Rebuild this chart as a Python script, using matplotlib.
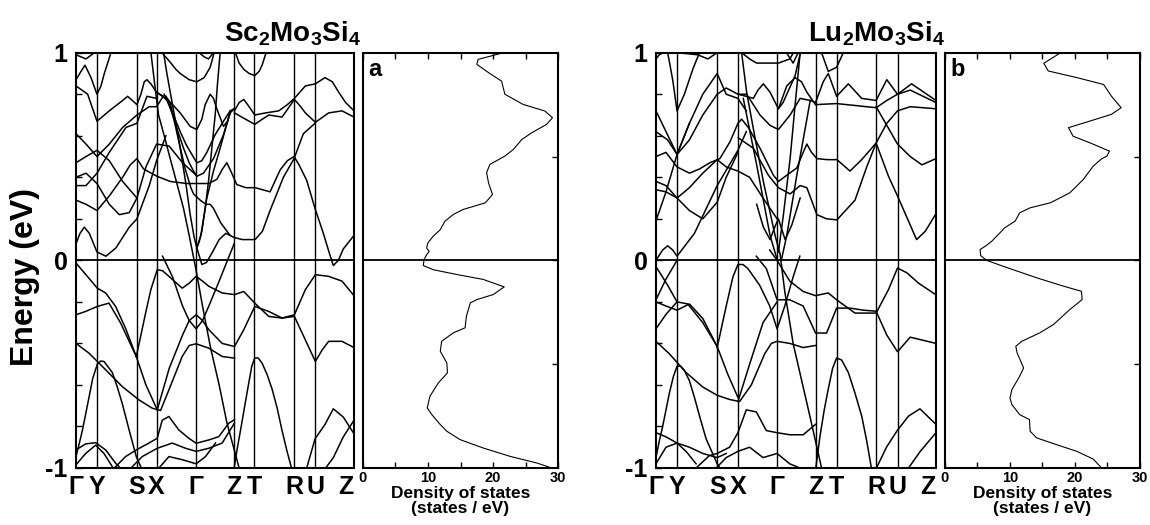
import matplotlib
matplotlib.use("Agg")
import matplotlib.pyplot as plt
from matplotlib.ticker import MultipleLocator

plt.rcParams["font.family"] = ["Liberation Sans", "DejaVu Sans"]
plt.rcParams["mathtext.fontset"] = "custom"
plt.rcParams["mathtext.rm"] = "Liberation Sans"
plt.rcParams["mathtext.bf"] = "Liberation Sans:bold"

# high-symmetry path (k in path-length units) and labels
kpath_labels = ["Γ", "Y", "S", "X", "Γ", "Z", "T", "R", "U", "Z"]
sc_kpath = [0.0, 0.63, 1.83, 2.42, 3.61, 4.75, 5.36, 6.55, 7.18, 8.35]
lu_kpath = [0.0, 0.63, 1.83, 2.45, 3.62, 4.77, 5.40, 6.58, 7.22, 8.37]

# Sc2Mo3Si4 bands above E_F, (k, E in eV)
sc_bands_upper = [
    [(0.00, 0.99), (0.30, 0.97), (0.55, 1.00)],
    [(0.00, 0.87), (0.15, 0.91), (0.27, 0.94), (0.45, 0.88), (0.63, 0.80), (0.75, 0.84),
     (0.85, 0.90), (1.05, 1.00)],
    [(0.00, 0.84), (0.35, 0.80), (0.63, 0.67), (1.00, 0.72), (1.40, 0.77), (1.55, 0.79),
     (1.83, 0.75), (1.95, 0.80), (2.05, 0.86), (2.13, 0.87), (2.25, 0.85), (2.42, 0.81),
     (2.62, 0.79)],
    [(0.00, 0.61), (0.30, 0.56), (0.63, 0.50), (1.00, 0.56), (1.40, 0.64), (1.83, 0.70),
     (2.20, 0.74), (2.42, 0.74), (2.62, 0.79)],
    [(0.00, 0.29), (0.30, 0.27), (0.63, 0.24), (1.00, 0.31), (1.40, 0.40), (1.63, 0.46),
     (1.83, 0.49), (2.03, 0.44), (2.43, 0.405), (2.83, 0.38), (3.33, 0.37), (3.98, 0.37),
     (4.23, 0.39), (4.40, 0.44), (4.53, 0.47), (4.65, 0.43), (4.83, 0.365), (5.10, 0.35),
     (5.38, 0.35), (5.83, 0.33), (6.13, 0.435), (6.35, 0.48), (6.55, 0.50), (6.70, 0.46),
     (6.93, 0.385), (7.18, 0.25), (7.43, 0.13), (7.60, 0.04), (7.73, -0.025), (7.88, 0.00),
     (8.03, 0.055), (8.35, 0.12)],
    [(0.00, 0.40), (0.30, 0.42), (0.63, 0.37), (1.00, 0.27), (1.30, 0.22), (1.60, 0.23),
     (1.83, 0.30), (2.10, 0.45), (2.42, 0.56), (2.80, 0.55), (3.20, 0.47), (3.61, 0.41)],
    [(0.00, 0.36), (0.30, 0.36), (0.63, 0.42), (1.00, 0.52), (1.50, 0.64), (1.83, 0.66),
     (2.13, 0.79), (2.42, 0.78)],
    [(0.00, 0.47), (0.30, 0.50), (0.63, 0.53), (1.00, 0.48), (1.40, 0.38), (1.83, 0.30)],
    [(0.00, 0.08), (0.12, 0.13), (0.25, 0.16), (0.40, 0.13), (0.63, 0.04), (0.90, 0.02),
     (1.20, 0.06), (1.60, 0.16), (1.83, 0.20), (2.20, 0.36), (2.42, 0.48), (2.70, 0.60)],
    [(2.42, 0.81), (2.68, 0.78), (2.90, 0.75), (3.13, 0.71), (3.43, 0.645), (3.63, 0.63),
     (3.78, 0.68), (3.88, 0.75), (4.03, 0.80), (4.13, 0.78), (4.23, 0.73), (4.43, 0.645),
     (4.55, 0.67), (4.63, 0.72), (4.75, 0.73)],
    [(2.62, 0.79), (2.73, 0.77), (2.95, 0.69), (3.13, 0.62), (3.30, 0.56), (3.48, 0.51),
     (3.63, 0.47), (3.78, 0.48), (3.93, 0.52), (4.18, 0.605), (4.43, 0.67), (4.63, 0.72)],
    [(2.65, 0.80), (2.78, 0.76), (3.00, 0.65), (3.23, 0.54), (3.40, 0.47), (3.53, 0.43),
     (3.63, 0.405), (3.83, 0.42), (4.13, 0.49), (4.43, 0.605), (4.63, 0.71), (4.75, 0.73)],
    [(2.70, 0.79), (2.83, 0.76), (3.05, 0.60), (3.28, 0.44), (3.45, 0.35), (3.53, 0.32),
     (3.73, 0.29), (3.90, 0.27), (4.03, 0.27), (4.13, 0.25), (4.35, 0.18), (4.63, 0.12),
     (4.75, 0.11), (5.00, 0.10), (5.38, 0.10), (5.60, 0.14), (5.83, 0.24), (6.23, 0.40),
     (6.55, 0.49), (6.83, 0.61), (7.18, 0.66)],
    [(2.63, 1.00), (2.73, 0.90), (2.83, 0.81), (3.00, 0.66), (3.13, 0.54), (3.30, 0.37),
     (3.43, 0.22), (3.55, 0.11), (3.63, 0.06), (3.78, -0.02), (3.92, -0.01), (4.10, 0.04),
     (4.30, 0.10), (4.50, 0.13), (4.63, 0.12)],
    [(2.25, 1.00), (2.40, 0.80), (2.48, 0.70), (2.65, 0.60), (2.83, 0.49), (3.03, 0.37),
     (3.23, 0.25), (3.40, 0.12), (3.61, -0.05), (3.80, -0.22), (4.04, -0.42), (4.30, -0.60),
     (4.53, -0.78), (4.90, -1.00)],
    [(4.33, 1.00), (4.25, 0.85), (4.18, 0.70), (4.08, 0.54), (3.98, 0.38), (3.88, 0.25),
     (3.78, 0.14), (3.70, 0.09), (3.63, 0.06)],
    [(3.63, 0.06), (3.75, 0.12), (3.93, 0.30), (4.13, 0.43), (4.33, 0.54), (4.50, 0.64),
     (4.63, 0.71)],
    [(2.58, 1.00), (2.80, 0.96), (3.00, 0.92), (3.13, 0.90), (3.40, 0.87), (3.63, 0.86),
     (3.85, 0.88), (4.03, 0.93), (4.15, 1.00)],
    [(3.70, 1.00), (3.85, 0.98), (3.98, 0.97), (4.13, 1.00)],
    [(4.79, 1.00), (4.90, 0.95), (5.04, 0.92), (5.20, 0.90), (5.37, 0.89), (5.50, 0.91),
     (5.59, 0.94), (5.71, 1.00)],
    [(4.76, 0.72), (4.90, 0.76), (5.04, 0.775), (5.20, 0.74), (5.37, 0.70), (5.69, 0.71),
     (6.09, 0.72), (6.35, 0.75), (6.56, 0.78), (6.89, 0.84), (7.19, 0.85), (7.48, 0.88),
     (7.70, 0.86), (7.89, 0.81), (8.10, 0.76), (8.35, 0.72)],
    [(4.76, 0.71), (5.09, 0.68), (5.37, 0.655), (5.60, 0.68), (5.79, 0.70), (6.19, 0.69),
     (6.56, 0.775), (6.75, 0.74), (6.89, 0.71), (7.19, 0.665), (7.59, 0.71), (7.99, 0.72),
     (8.35, 0.69)],
]

# Sc2Mo3Si4 bands below E_F
sc_bands_lower = [
    [(0.00, -0.945), (0.10, -0.88), (0.19, -0.82), (0.29, -0.74), (0.39, -0.66),
     (0.50, -0.57), (0.64, -0.50), (0.74, -0.485), (0.84, -0.487), (0.95, -0.51),
     (1.09, -0.54), (1.24, -0.61), (1.39, -0.69), (1.60, -0.82), (1.81, -0.945),
     (1.99, -1.01)],
    [(4.74, -1.01), (4.84, -0.91), (4.94, -0.82), (5.07, -0.70), (5.19, -0.59),
     (5.28, -0.51), (5.37, -0.47), (5.47, -0.47), (5.59, -0.495), (5.74, -0.55),
     (5.89, -0.62), (6.04, -0.71), (6.19, -0.82), (6.34, -0.92), (6.49, -1.01)],
    [(1.81, -0.463), (1.95, -0.36), (2.09, -0.254), (2.25, -0.14), (2.44, -0.045),
     (2.60, -0.05), (2.79, -0.077), (3.19, -0.134), (3.40, -0.11), (3.61, -0.077),
     (3.80, -0.10), (3.99, -0.125), (4.39, -0.157), (4.76, -0.165), (5.04, -0.15),
     (5.37, -0.206), (5.79, -0.27), (6.19, -0.278), (6.56, -0.262), (6.89, -0.141),
     (7.19, -0.069), (7.59, -0.077), (7.99, -0.10), (8.35, -0.17)],
    [(2.44, -0.72), (2.80, -0.52), (3.20, -0.36), (3.40, -0.29), (3.61, -0.262),
     (3.80, -0.29), (3.99, -0.334), (4.39, -0.40), (4.76, -0.415), (5.04, -0.334),
     (5.37, -0.222), (5.79, -0.246), (6.19, -0.278), (6.56, -0.27), (6.84, -0.366),
     (7.19, -0.487), (7.40, -0.43), (7.59, -0.39), (7.99, -0.39), (8.35, -0.42)],
    [(0.00, -0.40), (0.39, -0.447), (0.89, -0.527), (1.39, -0.608), (1.89, -0.672),
     (2.29, -0.712), (2.54, -0.723), (2.79, -0.624), (3.19, -0.463), (3.40, -0.41),
     (3.61, -0.402), (3.99, -0.423), (4.39, -0.463), (4.76, -0.471)],
    [(0.00, -0.262), (0.29, -0.246), (0.64, -0.222), (0.99, -0.206), (1.34, -0.302),
     (1.81, -0.463)],
    [(0.00, -0.013), (0.34, -0.077), (0.64, -0.134), (0.89, -0.157), (1.19, -0.222),
     (1.49, -0.328), (1.81, -0.463)],
    [(1.81, -0.463), (2.10, -0.60), (2.44, -0.72)],
    [(2.60, 0.02), (2.90, -0.08), (3.20, -0.22), (3.40, -0.29), (3.61, -0.33),
     (3.80, -0.29), (3.99, -0.22), (4.30, -0.10), (4.55, 0.00), (4.75, 0.08)],
    [(0.00, -0.913), (0.29, -0.884), (0.59, -0.878), (0.89, -0.913), (1.19, -0.977),
     (1.39, -1.01)],
    [(0.00, -0.985), (0.29, -0.93), (0.59, -0.89), (0.84, -0.93), (1.09, -0.994)],
    [(1.09, -1.01), (1.49, -0.945), (1.81, -0.913), (2.19, -0.88), (2.44, -0.857),
     (2.59, -0.77), (2.79, -0.752), (3.09, -0.817), (3.39, -0.857), (3.61, -0.881),
     (3.99, -0.865), (4.29, -0.849), (4.59, -0.784), (4.76, -0.768)],
    [(1.59, -1.01), (1.99, -0.945), (2.44, -0.905), (2.89, -0.88), (3.29, -0.905),
     (3.61, -0.92), (3.99, -0.905), (4.39, -0.88), (4.76, -0.784)],
    [(2.44, -1.01), (2.79, -0.945), (3.19, -0.96), (3.61, -0.98), (3.89, -0.945),
     (4.19, -0.88)],
    [(6.93, -1.00), (7.18, -0.86), (7.48, -0.79), (7.73, -0.715), (8.03, -0.755),
     (8.35, -0.835)],
    [(7.50, -1.00), (7.73, -0.95), (8.03, -0.85), (8.35, -0.77)],
]

# Lu2Mo3Si4 bands above E_F
lu_bands_upper = [
    [(0.00, 0.97), (0.10, 0.99), (0.20, 1.00)],
    [(0.35, 1.00), (0.50, 0.87), (0.63, 0.72), (0.85, 0.80), (1.10, 0.92), (1.30, 1.00)],
    [(0.65, 1.00), (1.25, 0.99), (1.55, 0.97), (1.83, 1.00)],
    [(0.00, 0.72), (0.30, 0.62), (0.63, 0.51), (1.00, 0.66), (1.40, 0.80), (1.83, 0.90),
     (2.10, 0.80), (2.45, 0.78), (2.70, 0.72)],
    [(0.00, 0.62), (0.35, 0.58), (0.63, 0.51), (1.00, 0.58), (1.40, 0.70), (1.83, 0.80),
     (2.10, 0.83), (2.45, 0.80)],
    [(0.00, 0.38), (0.30, 0.36), (0.63, 0.30), (1.00, 0.35), (1.40, 0.42), (1.83, 0.485),
     (2.10, 0.45), (2.45, 0.43), (2.80, 0.40), (3.20, 0.30), (3.62, 0.20)],
    [(0.00, 0.34), (0.30, 0.33), (0.63, 0.30), (1.00, 0.24), (1.40, 0.20), (1.83, 0.28),
     (2.10, 0.40), (2.45, 0.52)],
    [(0.00, 0.00), (0.20, 0.05), (0.35, 0.07), (0.50, 0.05), (0.63, 0.02), (1.15, 0.13),
     (1.83, 0.36), (2.45, 0.53), (2.70, 0.62)],
    [(0.00, 0.19), (0.30, 0.33), (0.63, 0.51), (1.00, 0.66)],
    [(2.56, 1.00), (2.80, 0.97), (3.01, 0.95), (3.40, 0.95), (3.66, 0.95), (4.00, 0.97),
     (4.11, 1.00)],
    [(2.45, 0.80), (2.70, 0.79), (2.91, 0.78), (3.05, 0.82), (3.21, 0.85), (3.41, 0.81),
     (3.66, 0.73), (3.80, 0.76), (3.91, 0.80), (4.05, 0.85), (4.16, 0.89), (4.26, 0.96),
     (4.32, 1.00)],
    [(2.45, 0.80), (2.71, 0.80), (3.11, 0.70), (3.41, 0.65), (3.66, 0.63), (4.01, 0.70),
     (4.31, 0.78), (4.61, 0.77), (4.77, 0.76)],
    [(3.66, 0.73), (3.91, 0.84), (4.16, 0.88), (4.35, 0.86), (4.51, 0.81), (4.77, 0.75)],
    [(0.00, 0.50), (0.30, 0.52), (0.63, 0.45), (1.00, 0.42), (1.30, 0.44), (1.61, 0.47),
     (1.91, 0.49), (2.21, 0.57), (2.45, 0.66), (2.56, 0.68), (2.76, 0.64), (3.11, 0.54),
     (3.51, 0.41), (3.66, 0.38), (3.91, 0.41), (4.21, 0.445), (4.40, 0.52), (4.51, 0.56),
     (4.65, 0.52), (4.81, 0.49), (5.11, 0.485), (5.41, 0.485), (5.80, 0.43), (6.15, 0.485),
     (6.58, 0.565), (6.95, 0.405), (7.22, 0.31), (7.53, 0.196), (7.79, 0.10), (8.05, 0.14),
     (8.37, 0.225)],
    [(2.46, 0.59), (2.91, 0.54), (3.36, 0.41), (3.66, 0.35), (4.01, 0.32), (4.31, 0.36),
     (4.51, 0.35), (4.81, 0.22), (5.10, 0.20), (5.41, 0.195), (5.95, 0.29), (6.30, 0.45),
     (6.58, 0.565), (6.90, 0.66), (7.22, 0.72), (7.60, 0.74), (8.37, 0.73)],
    [(3.01, 0.27), (3.21, 0.16), (3.41, 0.10), (3.55, 0.16), (3.66, 0.20), (3.76, 0.15),
     (3.86, 0.10), (4.06, 0.17), (4.31, 0.30)],
    [(2.56, 1.00), (2.71, 0.81), (2.95, 0.60), (3.21, 0.38), (3.56, 0.12), (3.71, 0.03),
     (3.85, -0.15), (4.10, -0.40), (4.60, -0.75), (4.95, -1.00)],
    [(2.61, 0.78), (3.01, 0.46), (3.41, 0.12), (3.61, 0.01)],
    [(4.31, 1.00), (4.16, 0.75), (4.01, 0.49), (3.81, 0.22), (3.66, 0.04)],
    [(4.61, 0.77), (4.21, 0.41), (3.91, 0.12), (3.76, 0.01)],
    [(3.90, 1.00), (4.10, 0.95), (4.25, 1.00)],
    [(4.95, 1.00), (5.15, 0.91), (5.40, 0.93), (5.60, 1.00)],
    [(4.77, 0.76), (5.00, 0.86), (5.15, 0.90), (5.40, 0.79), (5.75, 0.85), (6.15, 0.78),
     (6.58, 0.77), (6.90, 0.87), (7.22, 0.80), (7.64, 0.85), (8.37, 0.77)],
    [(4.77, 0.75), (5.40, 0.755), (6.00, 0.745), (6.58, 0.735), (6.90, 0.77), (7.22, 0.80),
     (7.60, 0.82), (8.37, 0.76)],
    [(6.58, 0.74), (6.90, 0.65), (7.22, 0.56), (7.60, 0.50), (7.95, 0.46), (8.37, 0.49)],
]

# Lu2Mo3Si4 bands below E_F
lu_bands_lower = [
    [(0.00, -0.95), (0.10, -0.87), (0.20, -0.80), (0.30, -0.72), (0.40, -0.64),
     (0.52, -0.56), (0.63, -0.51), (0.74, -0.51), (0.85, -0.53), (1.00, -0.58),
     (1.15, -0.66), (1.32, -0.76), (1.50, -0.86), (1.83, -0.98), (1.95, -1.01)],
    [(4.77, -1.01), (4.90, -0.85), (5.03, -0.72), (5.15, -0.62), (5.28, -0.52),
     (5.40, -0.47), (5.55, -0.48), (5.75, -0.54), (5.95, -0.64), (6.15, -0.75),
     (6.30, -0.87), (6.45, -1.01)],
    [(1.83, -0.42), (2.10, -0.22), (2.30, -0.08), (2.45, -0.02), (2.60, -0.02),
     (2.75, -0.04), (3.10, -0.12), (3.40, -0.22), (3.62, -0.33), (3.85, -0.22),
     (4.10, -0.08), (4.30, 0.02)],
    [(3.00, 0.02), (3.30, -0.04), (3.62, -0.19), (4.00, -0.19), (4.40, -0.22),
     (4.77, -0.35), (5.10, -0.35), (5.40, -0.23), (5.80, -0.23), (6.20, -0.24),
     (6.58, -0.245), (6.90, -0.36), (7.22, -0.44), (7.60, -0.37), (8.37, -0.40)],
    [(3.40, 0.05), (3.62, 0.00), (4.00, -0.10), (4.40, -0.15), (4.77, -0.17),
     (5.15, -0.157), (5.40, -0.19), (5.95, -0.254), (6.58, -0.254), (6.95, -0.141),
     (7.22, -0.037), (7.50, -0.06), (7.85, -0.11), (8.37, -0.166)],
    [(0.00, -0.39), (0.40, -0.45), (0.90, -0.54), (1.40, -0.61), (1.83, -0.65),
     (2.20, -0.67), (2.50, -0.68), (2.85, -0.60), (3.25, -0.45), (3.45, -0.40),
     (3.62, -0.39), (4.00, -0.40), (4.40, -0.42), (4.77, -0.41)],
    [(0.00, -0.03), (0.35, -0.12), (0.63, -0.20), (0.95, -0.21), (1.40, -0.30),
     (1.83, -0.415)],
    [(0.00, -0.20), (0.30, -0.22), (0.63, -0.24), (1.00, -0.21), (1.40, -0.28),
     (1.83, -0.415)],
    [(0.00, -0.19), (0.30, -0.09), (0.63, 0.00)],
    [(0.00, -0.33), (0.30, -0.26), (0.63, -0.20)],
    [(1.83, -0.415), (2.15, -0.55), (2.45, -0.66)],
    [(2.45, -0.68), (2.80, -0.50), (3.20, -0.30), (3.62, -0.20)],
    [(0.00, -0.83), (0.30, -0.85), (0.63, -0.88), (1.00, -0.90), (1.40, -0.93),
     (1.83, -0.95), (2.10, -0.93)],
    [(0.00, -0.98), (0.30, -0.90), (0.63, -0.88), (0.90, -0.92), (1.20, -0.98)],
    [(1.20, -1.00), (1.60, -0.94), (1.83, -0.93), (2.20, -0.90), (2.45, -0.83),
     (2.70, -0.72), (3.00, -0.73), (3.30, -0.82), (3.62, -0.83), (4.00, -0.84),
     (4.40, -0.84), (4.77, -0.79)],
    [(1.80, -1.00), (2.10, -0.95), (2.45, -0.92), (2.80, -0.90), (3.20, -0.95),
     (3.62, -0.93), (4.00, -0.98), (4.30, -1.00)],
    [(6.59, -1.00), (6.89, -0.90), (7.21, -0.82), (7.55, -0.75), (7.89, -0.715),
     (8.37, -0.79)],
    [(7.55, -1.00), (7.90, -0.92), (8.37, -0.83)],
]

# density of states (states / eV) vs energy (eV)
sc_dos_energy = [1.00, 0.968, 0.944, 0.904, 0.863, 0.80, 0.751, 0.719, 0.687, 0.655, 0.614,
                 0.582, 0.534, 0.502, 0.462, 0.422, 0.373, 0.317, 0.277, 0.245, 0.221,
                 0.188, 0.148, 0.116, 0.084, 0.059, 0.043, 0.027, 0.003, -0.025, -0.045,
                 -0.068, -0.092, -0.128, -0.165, -0.189, -0.205, -0.269, -0.325, -0.349,
                 -0.390, -0.438, -0.494, -0.542, -0.590, -0.655, -0.711, -0.743, -0.791,
                 -0.823, -0.863, -0.904, -0.944, -0.976, -1.0]
sc_dos = [21.6, 17.7, 17.5, 19.3, 21.3, 21.8, 24.6, 27.95, 29.1, 28.2, 25.9, 24.4, 23.1,
          21.8, 19.5, 19.0, 19.3, 19.9, 18.8, 15.4, 13.9, 12.6, 11.9, 10.8, 10.0, 9.8,
          10.2, 9.8, 9.4, 9.3, 10.8, 14.4, 18.5, 21.7, 20.0, 17.5, 16.5, 15.9, 15.7, 13.9,
          12.1, 11.9, 12.9, 13.0, 11.6, 10.3, 9.9, 10.6, 11.9, 12.9, 14.9, 18.5, 22.6,
          26.7, 29.0]

lu_dos_energy = [1.00, 0.949, 0.912, 0.880, 0.847, 0.791, 0.735, 0.703, 0.666, 0.639,
                 0.598, 0.566, 0.526, 0.502, 0.489, 0.454, 0.390, 0.325, 0.277, 0.253,
                 0.229, 0.189, 0.157, 0.124, 0.092, 0.068, 0.052, 0.023, 0.0, -0.029,
                 -0.084, -0.124, -0.149, -0.189, -0.237, -0.309, -0.349, -0.390, -0.414,
                 -0.446, -0.518, -0.558, -0.622, -0.663, -0.695, -0.743, -0.767, -0.823,
                 -0.855, -0.888, -0.920, -0.957, -1.0]
lu_dos = [17.8, 15.2, 15.9, 20.3, 24.4, 25.6, 27.1, 25.6, 21.8, 19.0, 19.7, 22.3, 25.3,
          24.9, 24.1, 22.8, 21.3, 19.2, 16.2, 13.1, 11.5, 10.8, 9.2, 8.2, 7.2, 6.2, 5.4,
          5.5, 6.4, 9.0, 14.1, 18.2, 21.0, 21.1, 19.2, 16.7, 14.6, 11.8, 10.9, 11.1, 12.1,
          11.5, 10.3, 10.0, 10.3, 11.5, 13.0, 13.1, 14.1, 17.2, 20.3, 22.8, 24.1]


def draw_bands(ax, bands, kpath):
    for band in bands:
        k, e = zip(*band)
        ax.plot(k, e, color="black", lw=1.1, solid_joinstyle="round")
    for kp in kpath[1:-1]:
        ax.axvline(kp, color="black", lw=1.0)
    ax.axhline(0, color="black", lw=1.3)
    ax.set_xlim(kpath[0], kpath[-1])
    ax.set_ylim(-1, 1)
    ax.set_xticks(kpath)
    ax.set_xticklabels(kpath_labels, fontsize=18, fontweight="bold")
    ax.get_xticklabels()[-1].set_ha("right")
    ax.tick_params(axis="x", length=0, pad=5)
    ax.set_yticks([-1, 0, 1])
    ax.set_yticklabels(["-1", "0", "1"], fontsize=18, fontweight="bold")
    ax.yaxis.set_minor_locator(MultipleLocator(0.2))
    ax.tick_params(axis="y", which="both", direction="in", length=4, width=1,
                   right=False, pad=6)
    for sp in ax.spines.values():
        sp.set_linewidth(1.5)


def draw_dos(ax, dos, energy, letter):
    ax.plot(dos, energy, color="black", lw=0.8)
    ax.axhline(0, color="black", lw=1.3)
    ax.set_xlim(0, 30)
    ax.set_ylim(-1, 1)
    ax.set_xticks([0, 10, 20, 30])
    ax.set_xticklabels(["0", "10", "20", "30"], fontsize=10.5, fontweight="bold")
    ax.xaxis.set_minor_locator(MultipleLocator(5))
    ax.tick_params(axis="x", which="both", direction="in", top=True, bottom=True,
                   length=4, width=1, pad=2)
    ax.set_yticks([-0.5, 0, 0.5])
    ax.set_yticklabels([])
    ax.tick_params(axis="y", direction="in", left=False, right=True, length=4, width=1)
    ax.set_xlabel("Density of states\n(states / eV)", fontsize=12.5, fontweight="bold",
                  labelpad=1, linespacing=1.0)
    ax.text(0.03, 0.945, letter, transform=ax.transAxes, fontsize=17,
            fontweight="bold", va="baseline", ha="left")
    for sp in ax.spines.values():
        sp.set_linewidth(1.5)


fig = plt.figure(figsize=(11.5, 5.25), dpi=100)
ax1 = fig.add_axes([0.0661, 0.1086, 0.2417, 0.7910])
ax2 = fig.add_axes([0.3154, 0.1086, 0.1701, 0.7910])
ax3 = fig.add_axes([0.5704, 0.1086, 0.2435, 0.7910])
ax4 = fig.add_axes([0.8217, 0.1086, 0.1696, 0.7910])

draw_bands(ax1, sc_bands_upper + sc_bands_lower, sc_kpath)
draw_bands(ax3, lu_bands_upper + lu_bands_lower, lu_kpath)
draw_dos(ax2, sc_dos, sc_dos_energy, "a")
draw_dos(ax4, lu_dos, lu_dos_energy, "b")

fig.text(0.254, 0.936, r"$\mathbf{Sc_2Mo_3Si_4}$", fontsize=20, ha="center", va="center")
fig.text(0.762, 0.936, r"$\mathbf{Lu_2Mo_3Si_4}$", fontsize=20, ha="center", va="center")
fig.text(0.022, 0.472, "Energy (eV)", rotation=90, fontsize=23, fontweight="bold",
         ha="center", va="center")

fig.savefig("out.png", dpi=100)
